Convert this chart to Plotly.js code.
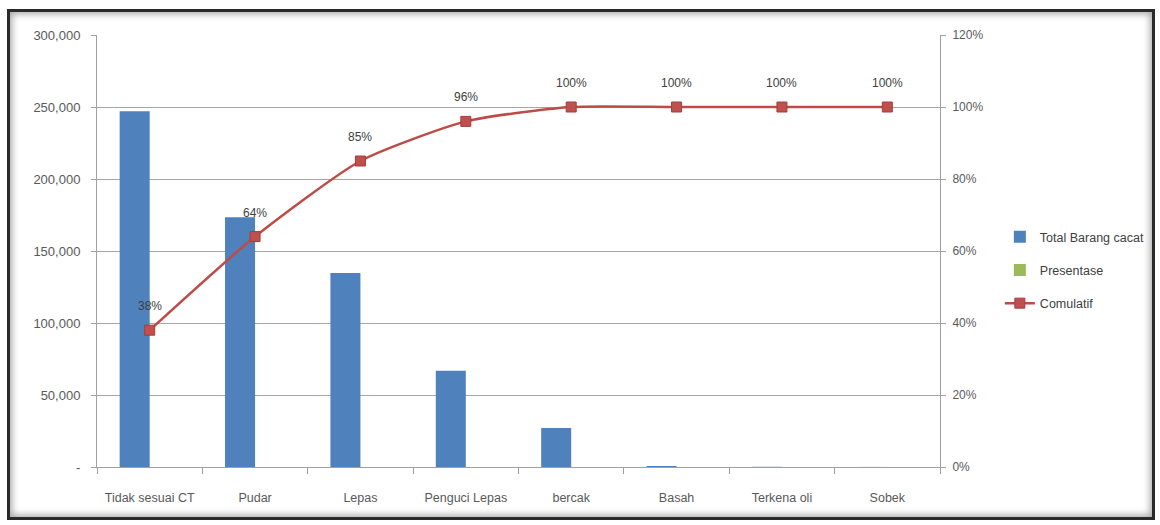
<!DOCTYPE html>
<html>
<head>
<meta charset="utf-8">
<script src="https://cdn.plot.ly/plotly-3.0.1.min.js"></script>
<style>
  html, body { margin: 0; padding: 0; background: #ffffff; }
  #frame {
    position: absolute; left: 7px; top: 9px; width: 1142px; height: 505px;
    border: 3px solid #2a2a2a; background: #ffffff;
    box-shadow: inset 0 0 7px 2px rgba(0,0,0,0.35);
    z-index: 0;
  }
  #chart { position: absolute; left: 0; top: 0; width: 1160px; height: 525px; z-index: 1; }
</style>
</head>
<body>
<div id="frame"></div>
<div id="chart"></div>
<script>
// ---- data ----
const categories = ["Tidak sesuai CT", "Pudar", "Lepas", "Penguci Lepas", "bercak", "Basah", "Terkena oli", "Sobek"];
const totalBarangCacat = [247000, 173500, 134800, 66800, 27000, 700, 150, 50];
const presentase = [0.38, 0.26, 0.21, 0.11, 0.04, 0.00, 0.00, 0.00];
const comulatif = [0.38, 0.64, 0.85, 0.96, 1.00, 1.00, 1.00, 1.00];
const leftTickVals = [0, 50000, 100000, 150000, 200000, 250000, 300000];
const leftTickText = ["-", "50,000", "100,000", "150,000", "200,000", "250,000", "300,000"];

const FONT = "'Liberation Sans', Arial, sans-serif";
const TXT = "#595959";

const traces = [
  {
    type: "bar", name: "Total Barang cacat", x: categories, y: totalBarangCacat,
    marker: { color: "#4F81BD" }, legendgroup: "a", hoverinfo: "y"
  },
  {
    type: "bar", name: "Presentase", x: categories, y: presentase,
    marker: { color: "#9BBB59" }, legendgroup: "b", hoverinfo: "y"
  },
  {
    type: "scatter", mode: "lines+markers", name: "Comulatif", x: categories, y: comulatif,
    yaxis: "y2", legendgroup: "c",
    line: { color: "#BE4B48", width: 2.5, shape: "spline", smoothing: 0.6 },
    marker: { symbol: "square", size: 10, color: "#C0504D", line: { color: "#A33E3B", width: 1 } }
  }
];

const annotations = categories.map((c, i) => ({
  x: c, y: comulatif[i], xref: "x", yref: "y2",
  text: Math.round(comulatif[i] * 100) + "%",
  showarrow: false, yshift: 24,
  font: { family: FONT, size: 12, color: "#404040" }
}));

const layout = {
  width: 1160, height: 525,
  margin: { l: 97, r: 220, t: 35, b: 58, autoexpand: false },
  paper_bgcolor: "rgba(0,0,0,0)",
  plot_bgcolor: "rgba(0,0,0,0)",
  font: { family: FONT, size: 12.5, color: TXT },
  barmode: "group", bargap: 0.43, bargroupgap: 0,
  showlegend: true,
  legend: {
    x: 1.071, y: 0.456, xanchor: "left", yanchor: "middle",
    font: { family: FONT, size: 12.5, color: "#404040" },
    traceorder: "grouped", tracegroupgap: 14, bgcolor: "rgba(0,0,0,0)"
  },
  xaxis: {
    type: "category", tickson: "boundaries", ticks: "outside", ticklen: 6, tickcolor: "#a0a0a0",
    tickangle: 0,
    showline: true, linecolor: "#a0a0a0", linewidth: 1, showgrid: false,
    ticklabelstandoff: 19,
    tickfont: { family: FONT, size: 12.5, color: TXT }
  },
  yaxis: {
    range: [0, 300000], tickvals: leftTickVals, ticktext: leftTickText,
    ticks: "outside", ticklen: 5, tickcolor: "#a0a0a0",
    showline: true, linecolor: "#a0a0a0", linewidth: 1,
    showgrid: true, gridcolor: "#a6a6a6", gridwidth: 1, zeroline: false,
    ticklabelstandoff: 8,
    tickfont: { family: FONT, size: 13, color: TXT }
  },
  yaxis2: {
    overlaying: "y", side: "right", range: [0, 1.2], dtick: 0.2, tick0: 0, tickformat: ".0%",
    ticks: "outside", ticklen: 5, tickcolor: "#a0a0a0",
    showline: true, linecolor: "#a0a0a0", linewidth: 1, showgrid: false, zeroline: false,
    ticklabelstandoff: 4,
    tickfont: { family: FONT, size: 12, color: TXT }
  },
  annotations: annotations
};

Plotly.newPlot("chart", traces, layout, { staticPlot: true, displayModeBar: false });
</script>
</body>
</html>
